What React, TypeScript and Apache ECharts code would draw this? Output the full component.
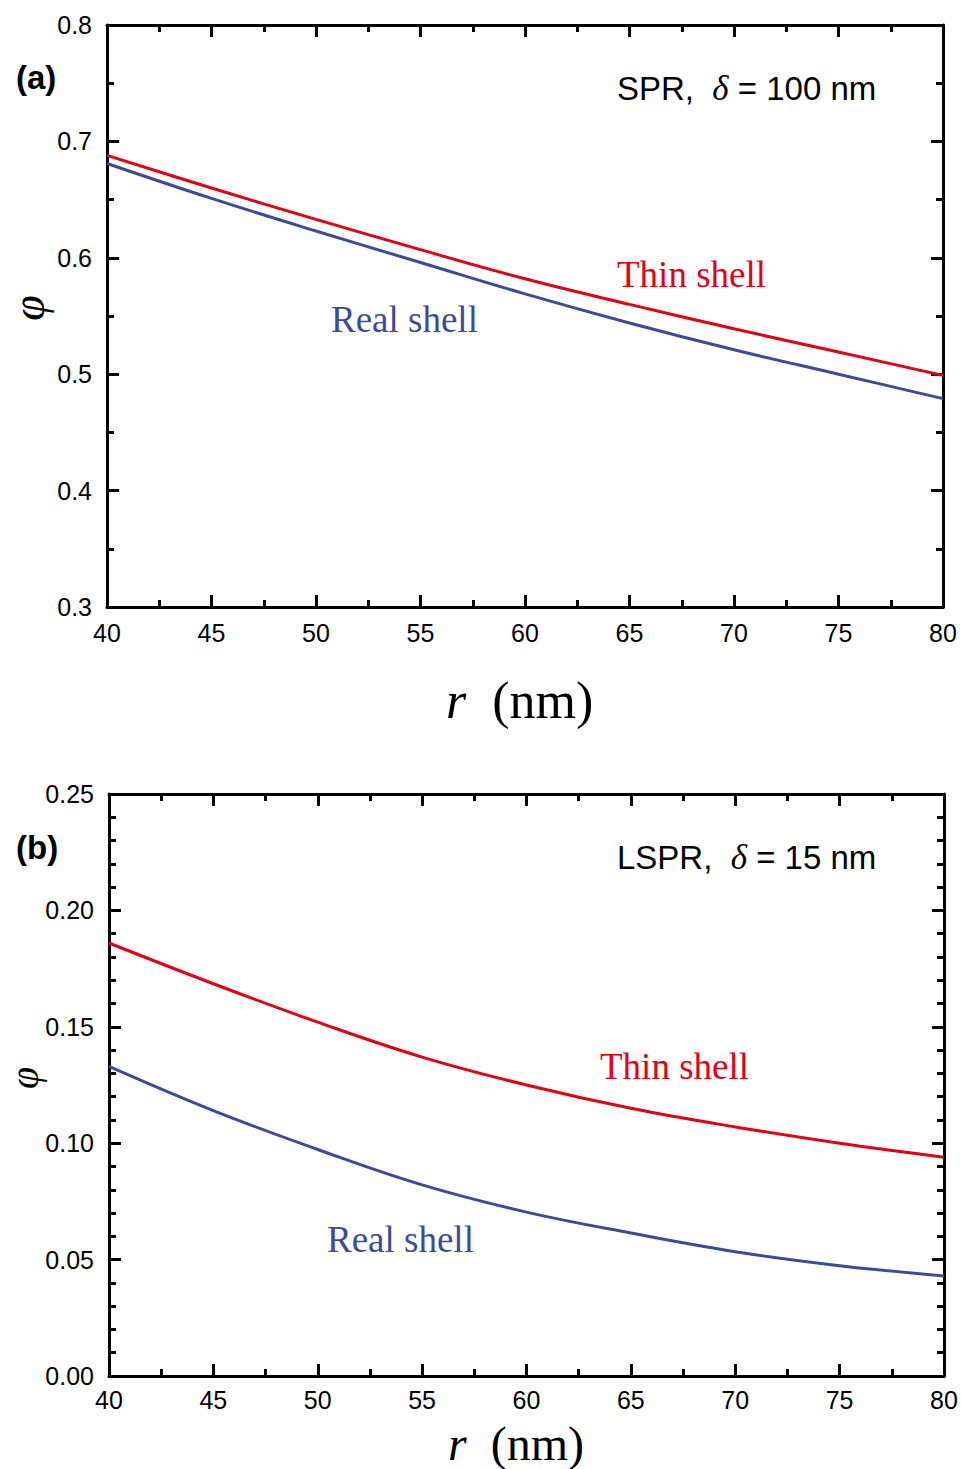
import React, { useEffect, useRef } from "react";
import * as echarts from "echarts";

// r (nm)
const rValues = [40, 45, 50, 55, 60, 65, 70, 75, 80];

// Panel (a): SPR, delta = 100 nm
const spvThinA = [0.688, 0.660, 0.633, 0.607, 0.582, 0.560, 0.539, 0.519, 0.499];
const spvRealA = [0.681, 0.651, 0.623, 0.596, 0.569, 0.544, 0.521, 0.500, 0.479];

// Panel (b): LSPR, delta = 15 nm
const lspThinB = [0.186, 0.1685, 0.152, 0.137, 0.125, 0.115, 0.107, 0.100, 0.094];
const lspRealB = [0.133, 0.114, 0.0973, 0.0821, 0.0704, 0.0614, 0.0534, 0.0474, 0.043];

const RED = "#e60012";
const BLUE = "#3b4a9b";
const SANS = "Liberation Sans, Arial, sans-serif";
const SERIF = "Liberation Serif, Times New Roman, serif";

const pairs = (ys: number[]) => rValues.map((x, i) => [x, ys[i]]);

function xAx(gridIndex: number, position: string, labels: boolean, margin: number) {
  return {
    type: "value",
    gridIndex,
    position,
    min: 40,
    max: 80,
    interval: 5,
    axisLine: { show: true, onZero: false, lineStyle: { color: "#000", width: 3 } },
    axisTick: { show: true, inside: true, length: 12, lineStyle: { color: "#000", width: 3 } },
    minorTick: { show: true, splitNumber: 2, length: 7, lineStyle: { color: "#000", width: 3 } },
    axisLabel: { show: labels, color: "#000", fontFamily: SANS, fontSize: 25, margin },
    splitLine: { show: false },
    minorSplitLine: { show: false },
  };
}

function yAx(gridIndex: number, position: string, labels: boolean, min: number, max: number, interval: number, minorSplit: number, decimals: number) {
  return {
    type: "value",
    gridIndex,
    position,
    min,
    max,
    interval,
    axisLine: { show: true, onZero: false, lineStyle: { color: "#000", width: 3 } },
    axisTick: { show: true, inside: true, length: 12, lineStyle: { color: "#000", width: 3 } },
    minorTick: { show: true, splitNumber: minorSplit, length: 7, lineStyle: { color: "#000", width: 3 } },
    axisLabel: {
      show: labels,
      color: "#000",
      fontFamily: SANS,
      fontSize: 25,
      margin: 15,
      formatter: (v: number) => v.toFixed(decimals),
    },
    splitLine: { show: false },
    minorSplitLine: { show: false },
  };
}

function lineSeries(xi: number, yi: number, data: number[][], color: string) {
  return {
    type: "line",
    xAxisIndex: xi,
    yAxisIndex: yi,
    data,
    smooth: 0.4,
    symbol: "none",
    lineStyle: { color, width: 3 },
    z: 1,
  };
}

function txt(x: number, y: number, text: string, fontSize: number, fill: string, extra: any = {}) {
  return {
    type: "text",
    x,
    y,
    z: 10,
    style: {
      text,
      fontSize,
      fontFamily: SERIF,
      fill,
      textAlign: "left",
      textVerticalAlign: "middle",
      ...extra,
    },
  };
}

function phi(x: number, y: number, size: number) {
  return {
    type: "text",
    x,
    y,
    rotation: Math.PI / 2,
    z: 10,
    style: { text: "φ", fontFamily: SERIF, fontStyle: "italic", fontSize: size, fill: "#000", textAlign: "center", textVerticalAlign: "middle" },
  };
}

export default function App() {
  const ref = useRef<HTMLDivElement>(null);
  useEffect(() => {
    document.body.style.margin = "0";
    if (!ref.current) return;
    const chart = echarts.init(ref.current, null, { renderer: "svg" });
    const annoRich = {
      a: { fontFamily: SANS, fontSize: 33, color: "#000" },
      d: { fontFamily: SERIF, fontStyle: "italic", fontSize: 35, color: "#000" },
    };
    const nameRich = (size: number) => ({
      i: { fontFamily: SERIF, fontStyle: "italic", fontSize: size, color: "#000" },
      n: { fontFamily: SERIF, fontSize: size, color: "#000" },
    });
    chart.setOption({
      animation: false,
      backgroundColor: "#fff",
      grid: [
        { left: 107, top: 25, width: 836, height: 582, containLabel: false },
        { left: 109, top: 794, width: 835, height: 582, containLabel: false },
      ],
      xAxis: [xAx(0, "bottom", true, 13), xAx(0, "top", false, 13), xAx(1, "bottom", true, 11), xAx(1, "top", false, 11)],
      yAxis: [
        yAx(0, "left", true, 0.3, 0.8, 0.1, 2, 1),
        yAx(0, "right", false, 0.3, 0.8, 0.1, 2, 1),
        yAx(1, "left", true, 0, 0.25, 0.05, 5, 2),
        yAx(1, "right", false, 0, 0.25, 0.05, 5, 2),
      ],
      series: [
        lineSeries(0, 0, pairs(spvThinA), RED),
        lineSeries(0, 0, pairs(spvRealA), BLUE),
        lineSeries(2, 2, pairs(lspThinB), RED),
        lineSeries(2, 2, pairs(lspRealB), BLUE),
      ],
      graphic: [
        // panel labels
        txt(16, 77, "(a)", 33, "#000", { fontFamily: SANS, fontWeight: "bold" }),
        txt(16, 847, "(b)", 33, "#000", { fontFamily: SANS, fontWeight: "bold" }),
        // conditions
        txt(617, 88, "{a|SPR,  }{d|δ}{a| = 100 nm}", 33, "#000", { rich: annoRich }),
        txt(617, 857, "{a|LSPR,  }{d|δ}{a| = 15 nm}", 33, "#000", { rich: annoRich }),
        // curve labels
        txt(617, 274, "Thin shell", 37, RED),
        txt(331, 319, "Real shell", 37, BLUE),
        txt(600, 1066, "Thin shell", 37, RED),
        txt(327, 1239, "Real shell", 37, BLUE),
        // axis names
        txt(446, 700, "{i|r}{n|  (nm)}", 52, "#000", { rich: nameRich(52) }),
        txt(448, 1443, "{i|r}{n|  (nm)}", 48, "#000", { rich: nameRich(48) }),
        phi(28, 308, 46),
        phi(24, 1078, 40),
      ],
    });
    return () => chart.dispose();
  }, []);
  return <div ref={ref} style={{ width: 961, height: 1469 }} />;
}
